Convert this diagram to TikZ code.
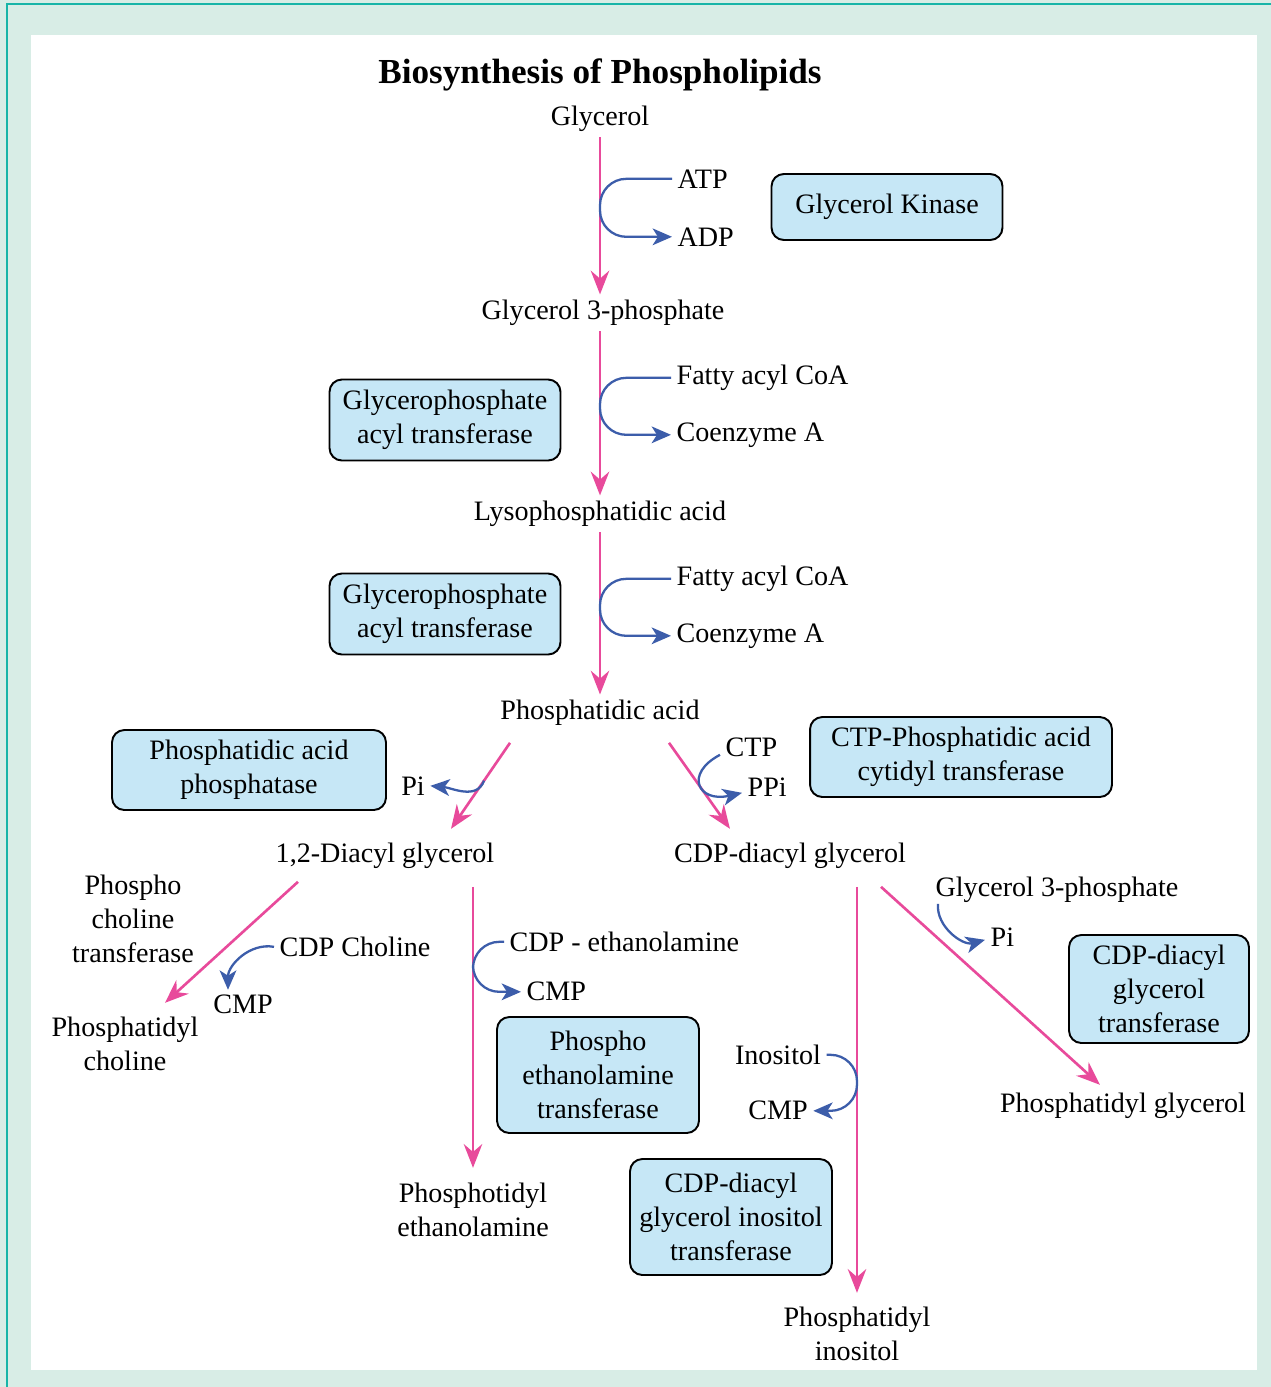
\documentclass[tikz,border=0pt]{standalone}
\usepackage{fontspec}
\setmainfont{Liberation Serif}
\usetikzlibrary{arrows.meta,calc,positioning}
\definecolor{pathpink}{HTML}{E84A9B}
\definecolor{sideblue}{HTML}{3C5DAA}
\definecolor{enzfill}{HTML}{C6E7F6}
\definecolor{framebg}{HTML}{D8EDE6}
\definecolor{frameline}{HTML}{17B5A8}

\begin{document}
\begin{tikzpicture}[x=0.02cm, y=-0.02cm,
  lbl/.style={inner sep=3pt, align=center, yshift=-1.6pt, font=\fontsize{16}{19.4}\selectfont},
  enzyme/.style={draw, line width=1.1pt, fill=enzfill, rounded corners=7pt,
    align=center, inner sep=0pt, font=\fontsize{16}{19.4}\selectfont},
  flow/.style={pathpink, line width=1.5pt, -{Stealth[length=13.5pt, width=10.5pt, inset=4.5pt]}},
  side/.style={sideblue, line width=1.3pt, -{Stealth[length=11pt, width=9.5pt, inset=3pt]}},
  loopy/.style={side, rounded corners=15pt}]

  % Frame
  \useasboundingbox (0,0) rectangle (1271,1387);
  \fill[framebg] (0,0) rectangle (1271,1387);
  \fill[white] (31,35) rectangle (1257,1370);
  \draw[frameline, line width=1.5pt] (7,1387) -- (7,4) -- (1271,4);

  \node[lbl, font=\fontsize{20}{24}\selectfont\bfseries] (title) at (600,72) {Biosynthesis of Phospholipids};

  % Main chain
  \node[lbl] (glycerol) at (600,116) {Glycerol};
  \node[lbl] (g3p) at (603,310) {Glycerol 3-phosphate};
  \node[lbl] (lpa) at (600,511) {Lysophosphatidic acid};
  \node[lbl] (pa) at (600,710) {Phosphatidic acid};
  \node[lbl] (dag) at (385,853) {1,2-Diacyl glycerol};
  \node[lbl] (cdpdag) at (790,853) {CDP-diacyl glycerol};

  % Products
  \node[lbl] (phchol) at (125,1041) {Phosphatidyl\\choline};
  \node[lbl] (pheth) at (473,1207) {Phosphotidyl\\ethanolamine};
  \node[lbl] (phino) at (857,1331) {Phosphatidyl\\inositol};
  \node[lbl] (phgly) at (1123,1103) {Phosphatidyl glycerol};
  \node[lbl] (phcholtr) at (133,916) {Phospho\\choline\\transferase};

  % Side reactants
  \node[lbl, anchor=west] (atp) at (672,176) {ATP};
  \node[lbl, anchor=west] (adp) at (672,234) {ADP};
  \node[lbl, anchor=west] (fa1) at (671,375) {Fatty acyl CoA};
  \node[lbl, anchor=west] (coa1) at (671,432) {Coenzyme A};
  \node[lbl, anchor=west] (fa2) at (671,576) {Fatty acyl CoA};
  \node[lbl, anchor=west] (coa2) at (671,633) {Coenzyme A};
  \node[lbl] (pi1) at (413,783) {Pi};
  \node[lbl, anchor=west] (ctp) at (720,745) {CTP};
  \node[lbl, anchor=west] (ppi) at (742,784) {PPi};
  \node[lbl, anchor=west] (cdpchol) at (274,944) {CDP Choline};
  \node[lbl] (cmp1) at (243,1002) {CMP};
  \node[lbl, anchor=west] (cdpeth) at (504,939) {CDP - ethanolamine};
  \node[lbl, anchor=west] (cmp2) at (521,989) {CMP};
  \node[lbl] (inositol) at (778,1052) {Inositol};
  \node[lbl] (cmp3) at (778,1108) {CMP};
  \node[lbl, anchor=west] (g3p2) at (930,887) {Glycerol 3-phosphate};
  \node[lbl, anchor=west] (pi2) at (985,934) {Pi};

  % Enzymes
  \node[enzyme, minimum width=4.62cm, minimum height=1.32cm] (gk) at (887,207) {Glycerol Kinase};
  \node[enzyme, minimum width=4.62cm, minimum height=1.62cm] (gpat1) at (445,420) {Glycerophosphate\\acyl transferase};
  \node[enzyme, minimum width=4.62cm, minimum height=1.62cm] (gpat2) at (445,614) {Glycerophosphate\\acyl transferase};
  \node[enzyme, minimum width=5.48cm, minimum height=1.60cm] (pap) at (249,770) {Phosphatidic acid\\phosphatase};
  \node[enzyme, minimum width=6.04cm, minimum height=1.60cm] (ctpct) at (961,757) {CTP-Phosphatidic acid\\cytidyl transferase};
  \node[enzyme, minimum width=4.04cm, minimum height=2.32cm] (pet) at (598,1075) {Phospho\\ethanolamine\\transferase};
  \node[enzyme, minimum width=4.04cm, minimum height=2.32cm] (cdpit) at (731,1217) {CDP-diacyl\\glycerol inositol\\transferase};
  \node[enzyme, minimum width=3.60cm, minimum height=2.16cm] (cdpgt) at (1159,989) {CDP-diacyl\\glycerol\\transferase};

  % Arrow ends
  \coordinate (pa-dag-s) at ($(pa)+(-90,30)$);
  \coordinate (pa-dag-e) at ($(dag)+(66,-27)$);
  \coordinate (pa-cdp-s) at ($(pa)+(69,30)$);
  \coordinate (pa-cdp-e) at ($(cdpdag)+(-60,-27)$);

  % Pathway arrows
  \draw[flow] (glycerol.south) -- (glycerol.south |- g3p.north);
  \draw[flow] (g3p.south -| glycerol) -- (lpa.north);
  \draw[flow] (lpa.south) -- (pa.north);
  \draw[flow] (pa-dag-s) -- (pa-dag-e);
  \draw[flow] (pa-cdp-s) -- (pa-cdp-e);
  \draw[flow] ($(dag)+(-87,26)$) -- ($(phchol)+(40,-41)$);
  \draw[flow] ($(dag)+(88,31)$) -- ($(pheth)+(0,-42)$);
  \draw[flow] ($(cdpdag)+(67,31)$) -- ($(phino)+(0,-41)$);
  \draw[flow] ($(cdpdag)+(91,31)$) -- ($(phgly)+(-23,-21)$);

  % Side reactions
  \draw[loopy] (atp.west) -- (atp.west -| glycerol) -- (adp.west -| glycerol) -- (adp.west);
  \draw[loopy] (fa1.west) -- (fa1.west -| glycerol) -- (coa1.west -| glycerol) -- (coa1.west);
  \draw[loopy] (fa2.west) -- (fa2.west -| glycerol) -- (coa2.west -| glycerol) -- (coa2.west);
  \draw[side] ($(pa-dag-s)!0.44!(pa-dag-e)$) to[out=-110, in=-5] (pi1.east);
  \draw[side] ($(ctp.west)+(0,7)$) .. controls ($(ctp.west)+(-36,26)$) and ($(ppi.west)+(-44,16)$) .. ($(ppi.west)+(0,6)$);
  \draw[side] (cdpchol.west) to[out=170, in=90] ($(cmp1.north)+(-15,0)$);
  \draw[loopy] (cdpeth.west) -- (cdpeth.west -| pheth) -- (cmp2.west -| pheth) -- (cmp2.west);
  \draw[loopy] (inositol.east) -- (inositol.east -| phino) -- (cmp3.east -| phino) -- (cmp3.east);
  \draw[side] ($(g3p2.west)+(8,14)$) to[out=-95, in=195] ($(pi2.west)+(0,3)$);
\end{tikzpicture}
\end{document}
